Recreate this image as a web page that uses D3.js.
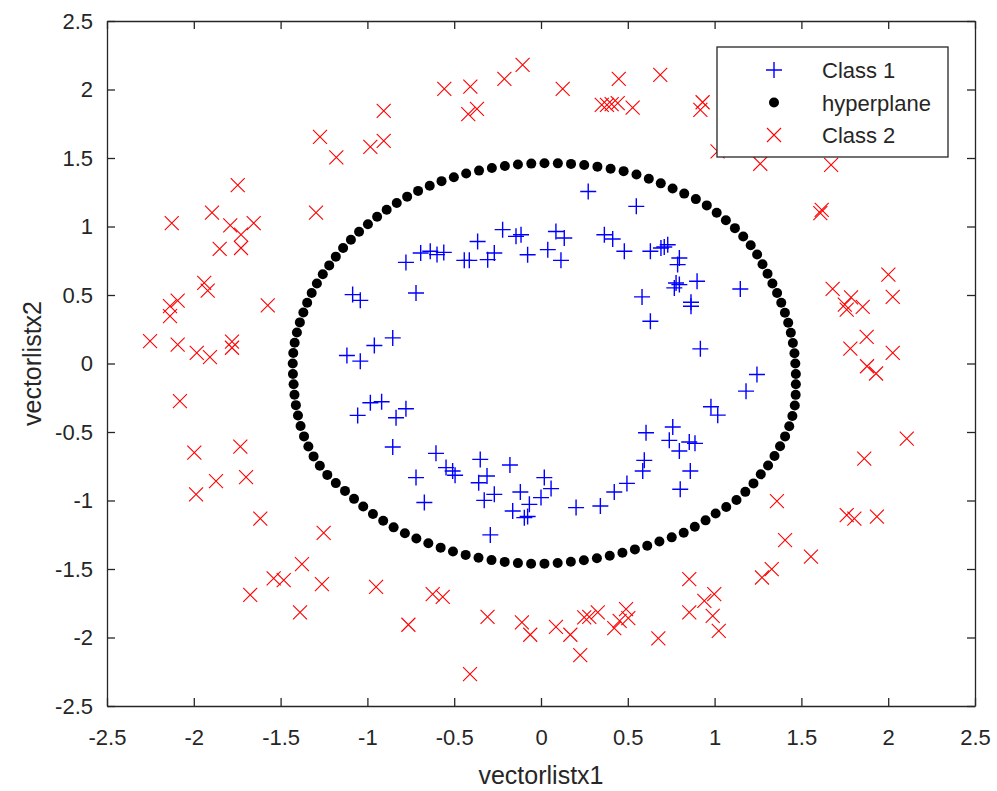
<!DOCTYPE html>
<html>
<head>
<meta charset="utf-8">
<script src="https://cdn.jsdelivr.net/npm/d3@7"></script>
<style>
  html, body { margin: 0; padding: 0; background: #fff; }
  svg { display: block; font-family: "Liberation Sans", Arial, sans-serif; }
</style>
</head>
<body>
<div id="chart"></div>
<script>
// tick values (same on both axes)
const ticks = [-2.5, -2, -1.5, -1, -0.5, 0, 0.5, 1, 1.5, 2, 2.5];

// Class 1 (blue +)
const class1 = [
  [0.272,1.256],[0.549,1.147],[-0.221,0.977],[-0.365,0.891],[-0.144,0.928],[-0.115,0.940],
  [0.086,0.964],[0.134,0.916],[0.039,0.831],[0.115,0.753],[-0.077,0.794],[-0.269,0.807],
  [-0.307,0.758],[-0.442,0.753],[-0.413,0.753],[-0.693,0.807],[-0.638,0.819],[-0.599,0.795],
  [-0.560,0.811],[-0.778,0.738],[-0.720,0.515],[-1.085,0.503],[-1.041,0.461],[-0.854,0.187],
  [-0.960,0.131],[-1.118,0.058],[-1.041,0.017],[-0.983,-0.287],[-0.918,-0.279],[-1.056,-0.379],
  [-0.778,-0.330],[-0.835,-0.396],[-0.854,-0.610],[-0.605,-0.656],[-0.547,-0.760],[-0.509,-0.785],
  [-0.495,-0.816],[-0.720,-0.833],[-0.672,-1.015],[-0.350,-0.700],[-0.311,-0.821],[-0.359,-0.870],
  [-0.269,-0.955],[-0.327,-0.999],[-0.179,-0.741],[-0.292,-1.251],[-0.119,-0.938],[-0.163,-1.077],
  [-0.067,-1.028],[-0.096,-1.125],[-0.077,-1.117],[0.019,-0.833],[0.058,-0.913],[0.000,-0.979],
  [0.202,-1.052],[0.342,-1.040],[0.422,-0.938],[0.495,-0.875],[0.586,-0.785],[0.595,-0.707],
  [0.605,-0.505],[0.759,-0.464],[0.739,-0.561],[0.797,-0.639],[0.854,-0.573],[0.887,-0.583],
  [0.860,-0.785],[0.802,-0.918],[0.979,-0.316],[1.018,-0.377],[1.181,-0.202],[1.244,-0.080],
  [0.918,0.107],[0.630,0.308],[0.582,0.486],[1.148,0.544],[0.864,0.447],[0.864,0.418],
  [0.778,0.588],[0.797,0.576],[0.899,0.600],[0.768,0.552],[0.797,0.770],[0.787,0.722],
  [0.630,0.819],[0.691,0.843],[0.730,0.867],[0.710,0.850],[0.480,0.819],[0.365,0.940],[0.413,0.909]
];

// hyperplane (black dots)
const hyperplane = [
  [1.465,0],[1.460,0.075],[1.451,0.150],[1.439,0.225],[1.424,0.298],[1.405,0.371],[1.384,0.443],
  [1.360,0.514],[1.333,0.584],[1.305,0.655],[1.276,0.725],[1.245,0.795],[1.208,0.863],[1.165,0.927],
  [1.117,0.988],[1.065,1.045],[1.012,1.101],[0.955,1.154],[0.892,1.200],[0.825,1.240],[0.758,1.278],
  [0.690,1.315],[0.621,1.349],[0.550,1.380],[0.476,1.404],[0.401,1.422],[0.325,1.437],[0.249,1.449],
  [0.173,1.457],[0.097,1.461],[0.020,1.462],
  [-0.056,1.459],[-0.133,1.452],[-0.208,1.441],[-0.283,1.427],[-0.357,1.408],[-0.431,1.387],
  [-0.502,1.360],[-0.573,1.331],[-0.641,1.297],[-0.708,1.260],[-0.771,1.218],[-0.831,1.171],
  [-0.889,1.122],[-0.944,1.071],[-0.997,1.017],[-1.048,0.962],[-1.095,0.903],[-1.140,0.843],
  [-1.182,0.780],[-1.220,0.716],[-1.257,0.651],[-1.291,0.584],[-1.321,0.515],[-1.347,0.444],
  [-1.369,0.372],[-1.389,0.300],[-1.406,0.226],[-1.419,0.151],[-1.427,0.076],[-1.430,0],
  [-1.429,-0.076],[-1.425,-0.152],[-1.420,-0.228],[-1.412,-0.304],[-1.400,-0.380],[-1.385,-0.456],
  [-1.365,-0.532],[-1.340,-0.606],[-1.310,-0.678],[-1.274,-0.747],[-1.231,-0.813],[-1.182,-0.873],
  [-1.129,-0.930],[-1.077,-0.988],[-1.024,-1.044],[-0.968,-1.098],[-0.909,-1.148],[-0.849,-1.196],
  [-0.784,-1.239],[-0.718,-1.277],[-0.649,-1.312],[-0.578,-1.344],[-0.507,-1.372],[-0.434,-1.397],
  [-0.360,-1.418],[-0.285,-1.435],[-0.209,-1.448],[-0.133,-1.457],[-0.057,-1.462],[0.020,-1.461],
  [0.096,-1.456],[0.172,-1.447],[0.247,-1.436],[0.322,-1.421],[0.396,-1.403],[0.469,-1.382],
  [0.541,-1.357],[0.612,-1.330],[0.682,-1.299],[0.753,-1.269],[0.822,-1.235],[0.886,-1.192],
  [0.948,-1.145],[1.006,-1.095],[1.067,-1.047],[1.126,-0.996],[1.177,-0.937],[1.224,-0.875],
  [1.266,-0.809],[1.308,-0.744],[1.345,-0.675],[1.377,-0.604],[1.406,-0.532],[1.430,-0.458],
  [1.448,-0.383],[1.462,-0.306],[1.467,-0.229],[1.468,-0.152],[1.468,-0.076]
];

// Class 2 (red x)
const class2 = [
  [-0.906,1.844],[-1.273,1.655],[-0.983,1.582],[-0.906,1.625],[-1.179,1.504],[-1.747,1.302],
  [-1.296,1.101],[-2.127,1.025],[-1.895,1.101],[-1.790,1.008],[-1.655,1.025],[-1.728,0.940],
  [-1.728,0.843],[-1.851,0.836],[-1.940,0.588],[-1.920,0.532],[-1.574,0.425],[-2.093,0.459],
  [-2.137,0.418],[-2.137,0.345],[-2.252,0.163],[-2.093,0.138],[-1.983,0.078],[-1.907,0.046],
  [-1.780,0.160],[-1.780,0.115],[-2.080,-0.275],[-1.997,-0.651],[-1.732,-0.607],[-1.872,-0.858],
  [-1.699,-0.829],[-1.987,-0.955],[-1.617,-1.132],[-1.252,-1.237],[-1.377,-1.465],[-1.540,-1.569],
  [-1.482,-1.582],[-1.262,-1.611],[-0.950,-1.630],[-1.675,-1.689],[-1.388,-1.817],[-0.764,-1.907],
  [-0.624,-1.684],[-0.566,-1.703],[-0.308,-1.849],[-0.409,-2.267],[-0.110,-1.890],[-0.062,-1.980],
  [0.086,-1.922],[0.169,-1.980],[0.226,-2.128],[0.249,-1.853],[0.278,-1.849],[0.327,-1.817],
  [0.422,-1.931],[0.490,-1.793],[0.503,-1.859],[0.453,-1.878],[0.676,-2.007],[0.854,-1.574],
  [0.854,-1.817],[1.359,-1.004],[1.761,-1.106],[1.805,-1.132],[1.935,-1.117],[1.406,-1.290],
  [1.555,-1.409],[1.329,-1.501],[1.273,-1.562],[0.998,-1.684],[0.941,-1.732],[0.989,-1.842],
  [1.024,-1.951],[2.001,0.649],[1.680,0.544],[2.026,0.486],[1.786,0.483],[1.761,0.394],
  [1.750,0.430],[1.853,0.413],[1.876,0.195],[1.782,0.109],[2.026,0.078],[1.878,-0.020],
  [1.930,-0.073],[2.107,-0.549],[1.862,-0.695],[0.931,1.907],[0.918,1.851],[1.017,1.548],
  [1.263,1.458],[1.671,1.450],[1.617,1.122],[1.609,1.098],[-0.557,2.004],[-0.407,2.021],
  [-0.211,2.077],[-0.106,2.179],[-0.369,1.859],[-0.419,1.820],[0.125,2.004],[0.350,1.888],
  [0.380,1.888],[0.407,1.893],[0.442,1.900],[0.448,2.077],[0.528,1.868],[0.687,2.106]
];

const legendItems = ['Class 1', 'hyperplane', 'Class 2'];

const W = 997, H = 791;
const axisColor = '#262626';
const tickFont = '22px';
const dotR = 5;

const svg = d3.select('#chart').append('svg')
  .attr('width', W).attr('height', H);

svg.append('rect').attr('width', W).attr('height', H).attr('fill', '#fff');

const x = d3.scaleLinear().domain([-2.5, 2.5]).range([107, 975]);
const y = d3.scaleLinear().domain([-2.5, 2.5]).range([706, 21]);

// marker shapes
const plusPath = 'M-8,0H8M0,-8V8';
const crossPath = 'M-7,-7L7,7M-7,7L7,-7';

// Class 1
svg.append('g').selectAll('path')
  .data(class1)
  .join('path')
  .attr('transform', d => `translate(${x(d[0])},${y(d[1])})`)
  .attr('d', plusPath)
  .attr('stroke', '#0000ff')
  .attr('stroke-width', 1.4)
  .attr('fill', 'none');

// hyperplane
svg.append('g').selectAll('circle')
  .data(hyperplane)
  .join('circle')
  .attr('cx', d => x(d[0]))
  .attr('cy', d => y(d[1]))
  .attr('r', dotR)
  .attr('fill', '#000');

// Class 2
svg.append('g').selectAll('path')
  .data(class2)
  .join('path')
  .attr('transform', d => `translate(${x(d[0])},${y(d[1])})`)
  .attr('d', crossPath)
  .attr('stroke', '#ff0000')
  .attr('stroke-width', 1.1)
  .attr('fill', 'none');

// axes, MATLAB style: box on, ticks inward on all four sides
const fmt = d => String(d);

const gx = svg.append('g').attr('transform', `translate(0,${y(-2.5)})`)
  .call(d3.axisBottom(x).tickValues(ticks).tickFormat(fmt).tickSizeInner(-8).tickSizeOuter(0).tickPadding(23));
const gxTop = svg.append('g').attr('transform', `translate(0,${y(2.5)})`)
  .call(d3.axisTop(x).tickValues(ticks).tickFormat('').tickSizeInner(-8).tickSizeOuter(0));
const gy = svg.append('g').attr('transform', `translate(${x(-2.5)},0)`)
  .call(d3.axisLeft(y).tickValues(ticks).tickFormat(fmt).tickSizeInner(-8).tickSizeOuter(0).tickPadding(14));
const gyRight = svg.append('g').attr('transform', `translate(${x(2.5)},0)`)
  .call(d3.axisRight(y).tickValues(ticks).tickFormat('').tickSizeInner(-8).tickSizeOuter(0));

[gx, gxTop, gy, gyRight].forEach(g => {
  g.select('.domain').attr('stroke', axisColor).attr('stroke-width', 1.3);
  g.selectAll('.tick line').attr('stroke', axisColor).attr('stroke-width', 1.3);
  g.selectAll('.tick text')
    .attr('fill', axisColor)
    .style('font-family', '"Liberation Sans", Arial, sans-serif')
    .style('font-size', tickFont);
});

// axis titles
svg.append('text')
  .attr('x', x(0)).attr('y', 784)
  .attr('text-anchor', 'middle')
  .attr('fill', axisColor)
  .style('font-size', '25px')
  .text('vectorlistx1');

svg.append('text')
  .attr('transform', `translate(41,${y(0)}) rotate(-90)`)
  .attr('text-anchor', 'middle')
  .attr('fill', axisColor)
  .style('font-size', '25px')
  .text('vectorlistx2');

// legend
const lg = svg.append('g').attr('transform', 'translate(717,47)');
lg.append('rect')
  .attr('width', 231).attr('height', 110)
  .attr('fill', '#fff')
  .attr('stroke', axisColor).attr('stroke-width', 1.3);

const rowY = d3.scalePoint().domain(legendItems).range([23, 88]);

lg.selectAll('text')
  .data(legendItems)
  .join('text')
  .attr('x', 105)
  .attr('y', d => rowY(d) + 8)
  .attr('fill', axisColor)
  .style('font-size', '22px')
  .text(d => d);

lg.append('path')
  .attr('transform', `translate(57,${rowY('Class 1')})`)
  .attr('d', plusPath).attr('stroke', '#0000ff').attr('stroke-width', 1.4).attr('fill', 'none');
lg.append('circle')
  .attr('cx', 57).attr('cy', rowY('hyperplane')).attr('r', dotR).attr('fill', '#000');
lg.append('path')
  .attr('transform', `translate(57,${rowY('Class 2')})`)
  .attr('d', crossPath).attr('stroke', '#ff0000').attr('stroke-width', 1.1).attr('fill', 'none');
</script>
</body>
</html>
